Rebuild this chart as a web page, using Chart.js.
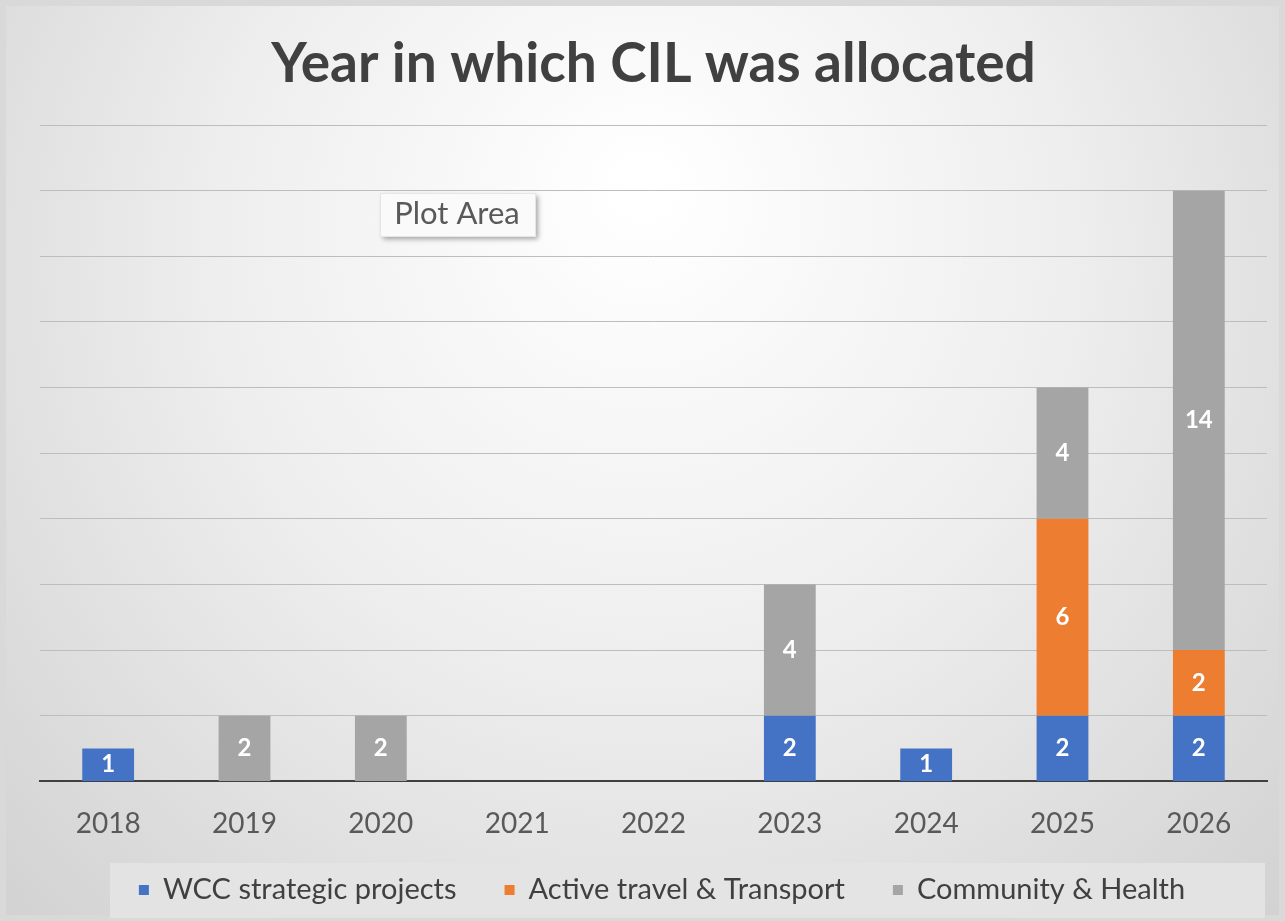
<!DOCTYPE html>
<html>
<head>
<meta charset="utf-8">
<script src="https://cdn.jsdelivr.net/npm/chart.js@4/dist/chart.umd.min.js"></script>
<style>
  html, body { margin: 0; padding: 0; background: #fff; }
  #wrap { width: 1285px; height: 921px; }
</style>
</head>
<body>
<div id="wrap"><canvas id="cilChart" width="1285" height="921"></canvas></div>
<script>
const years = ['2018', '2019', '2020', '2021', '2022', '2023', '2024', '2025', '2026'];
const wccStrategic = [1, 0, 0, 0, 0, 2, 1, 2, 2];
const activeTravel = [0, 0, 0, 0, 0, 0, 0, 6, 2];
const communityHealth = [0, 2, 2, 0, 0, 4, 0, 4, 14];
const yTicks = [0, 2, 4, 6, 8, 10, 12, 14, 16, 18, 20];

const FONT = 'Lato, "Open Sans", sans-serif';

// gradient backdrop behind everything
const backdrop = {
  id: 'backdrop',
  beforeDraw(chart) {
    const ctx = chart.ctx;
    const w = chart.width, h = chart.height;
    ctx.save();
    ctx.fillStyle = '#d9d9d9';
    ctx.fillRect(0, 0, w, h);
    const g = ctx.createRadialGradient(w * 0.5, h * 0.2, 20, w * 0.5, h * 0.35, w * 0.72);
    g.addColorStop(0, '#ffffff');
    g.addColorStop(0.45, '#eeeeee');
    g.addColorStop(1, '#cfcfcf');
    ctx.fillStyle = g;
    ctx.fillRect(6, 6, w - 12, h - 12);
    ctx.restore();
  }
};

// legend drawn by hand in a shaded strip under the axis
const legendStrip = {
  id: 'legendStrip',
  afterDraw(chart) {
    const ctx = chart.ctx;
    ctx.save();
    ctx.fillStyle = 'rgba(228,228,228,0.95)';
    ctx.fillRect(110, 863, 1155, 55);
    ctx.font = '29px ' + FONT;
    ctx.textBaseline = 'middle';
    const box = 10, gap = 14, spacing = 48;
    const items = chart.data.datasets.map(ds => ({ text: ds.label, color: ds.backgroundColor, w: ctx.measureText(ds.label).width }));
    const total = items.reduce((s, it) => s + box + gap + it.w, 0) + spacing * (items.length - 1);
    let x = 662 - total / 2;
    const cy = 890;
    items.forEach(it => {
      ctx.fillStyle = it.color;
      ctx.fillRect(x, cy - box / 2, box, box);
      x += box + gap;
      ctx.fillStyle = '#404040';
      ctx.fillText(it.text, x, cy);
      x += it.w + spacing;
    });
    ctx.restore();
  }
};

// value labels inside each stacked segment
const segLabels = {
  id: 'segLabels',
  afterDatasetsDraw(chart) {
    const ctx = chart.ctx;
    ctx.save();
    ctx.font = 'bold 24px ' + FONT;
    ctx.fillStyle = '#ffffff';
    ctx.textAlign = 'center';
    ctx.textBaseline = 'middle';
    chart.data.datasets.forEach((ds, i) => {
      const meta = chart.getDatasetMeta(i);
      meta.data.forEach((bar, j) => {
        const v = ds.data[j];
        if (!v) return;
        ctx.fillText(String(v), bar.x, (bar.y + bar.base) / 2);
      });
    });
    ctx.restore();
  }
};

// the "Plot Area" hover tag seen in the screenshot
const plotAreaTag = {
  id: 'plotAreaTag',
  afterDraw(chart) {
    const ctx = chart.ctx;
    ctx.save();
    ctx.shadowColor = 'rgba(0,0,0,0.35)';
    ctx.shadowBlur = 5;
    ctx.shadowOffsetX = 3;
    ctx.shadowOffsetY = 3;
    ctx.fillStyle = '#fafafa';
    ctx.fillRect(380, 193, 155, 43);
    ctx.shadowColor = 'transparent';
    ctx.strokeStyle = '#e6e6e6';
    ctx.strokeRect(380.5, 193.5, 155, 43);
    ctx.fillStyle = '#595959';
    ctx.font = '31px ' + FONT;
    ctx.textAlign = 'center';
    ctx.textBaseline = 'middle';
    ctx.fillText('Plot Area', 457, 214);
    ctx.restore();
  }
};

new Chart(document.getElementById('cilChart'), {
  type: 'bar',
  data: {
    labels: years,
    datasets: [
      { label: 'WCC strategic projects', data: wccStrategic, backgroundColor: '#4472c4' },
      { label: 'Active travel & Transport', data: activeTravel, backgroundColor: '#ed7d31' },
      { label: 'Community & Health', data: communityHealth, backgroundColor: '#a5a5a5' }
    ]
  },
  options: {
    responsive: false,
    animation: false,
    events: [],
    barPercentage: 0.38,
    categoryPercentage: 1,
    layout: { padding: { left: 40, right: 18, top: 0, bottom: 54 } },
    plugins: {
      title: {
        display: true,
        text: 'Year in which CIL was allocated',
        color: '#404040',
        font: { family: FONT, size: 55, weight: 'bold' },
        padding: { top: 31, bottom: 28 }
      },
      legend: { display: false },
      tooltip: { enabled: false }
    },
    scales: {
      x: {
        stacked: true,
        grid: { display: false, drawTicks: false },
        border: { color: '#404040', width: 2 },
        ticks: { color: '#595959', font: { family: FONT, size: 28 }, padding: 26 }
      },
      y: {
        stacked: true,
        min: 0,
        max: 20,
        afterBuildTicks(axis) { axis.ticks = yTicks.map(v => ({ value: v })); },
        grid: { color: '#bdbdbd', lineWidth: 1, drawTicks: false },
        border: { display: false },
        ticks: { display: false }
      }
    }
  },
  plugins: [backdrop, segLabels, legendStrip, plotAreaTag]
});
</script>
</body>
</html>
